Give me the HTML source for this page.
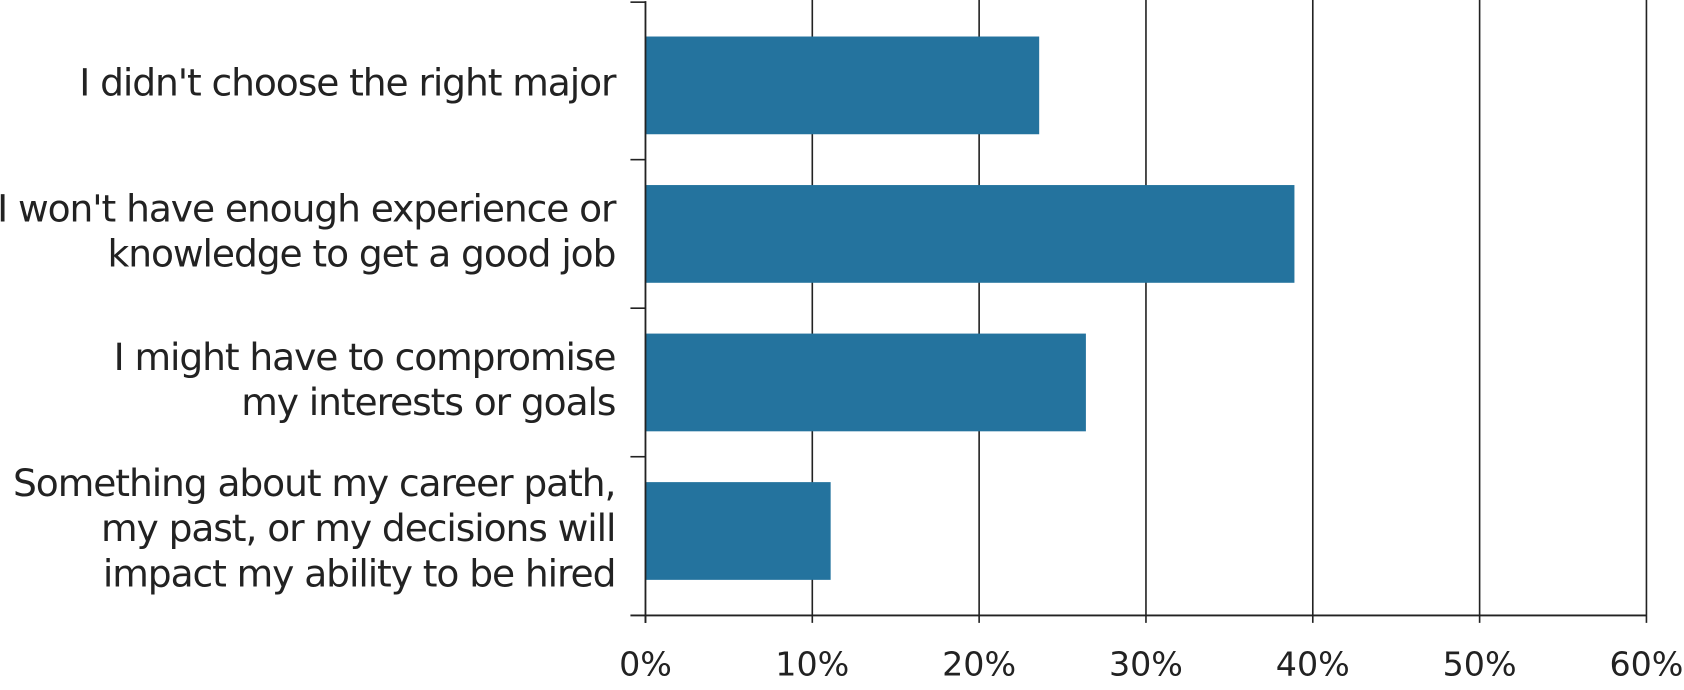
<!DOCTYPE html>
<html><head><meta charset="utf-8"><style>
html,body{margin:0;padding:0;background:#fff;width:1684px;height:690px;overflow:hidden}
svg text{font-family:"DejaVu Sans",sans-serif;fill:#222}
</style></head><body>
<svg width="1684" height="690" xmlns="http://www.w3.org/2000/svg"><g id="chart" transform="scale(1.074)"></g></svg>
<script>
const categories = [
  ["I didn't choose the right major"],
  ["I won't have enough experience or","knowledge to get a good job"],
  ["I might have to compromise","my interests or goals"],
  ["Something about my career path,","my past, or my decisions will","impact my ability to be hired"]
];
const values = [23.6, 38.9, 26.4, 11.1];
const tickValues = [0,10,20,30,40,50,60];
const tickLabels = ["0%","10%","20%","30%","40%","50%","60%"];

const NS="http://www.w3.org/2000/svg";
const svg=document.getElementById('chart');
const x0=601, x1=1533, xMax=60, yBottom=573;
const xs=v=>x0+(v/xMax)*(x1-x0);
const band=138.3, firstCenter=79.5, barH=91;
const yc=i=>firstCenter+i*band;
function mk(tag,attrs){const e=document.createElementNS(NS,tag);for(const k in attrs)e.setAttribute(k,attrs[k]);svg.appendChild(e);return e;}

tickValues.forEach((v,i)=>{
  if(v>0){const g=mk('line',{x1:xs(v),x2:xs(v),y1:0,y2:580,stroke:'#222','stroke-width':1.5});
  
  }
  else{const t=mk('line',{x1:xs(v),x2:xs(v),y1:573,y2:580,stroke:'#222','stroke-width':1.5});
  
  }
  const t=mk('text',{x:xs(v),y:629,'text-anchor':'middle','font-size':31});
  t.textContent=tickLabels[i];
  
  
});
values.forEach((v,i)=>{
  const r=mk('rect',{x:x0,y:yc(i)-barH/2,width:xs(v)-x0,height:barH,fill:'#24739e'});
  
  
  const lines=categories[i], lh=42;
  lines.forEach((s,j)=>{
    const t=mk('text',{x:573,y:yc(i)+(j-(lines.length-1)/2)*lh+9.5,'text-anchor':'end','font-size':35,'letter-spacing':-1});
    t.textContent=s;
    
    
  });
});
const tys=[2];
for(let i=1;i<values.length;i++)tys.push((yc(i-1)+yc(i))/2);
tys.forEach(y=>{
  const t=mk('line',{x1:587,x2:601,y1:y,y2:y,stroke:'#222','stroke-width':1.5});
  
  
});
const ya=mk('line',{x1:x0,x2:x0,y1:1,y2:580,stroke:'#222','stroke-width':1.7});


const xa=mk('line',{x1:587,x2:x1,y1:yBottom,y2:yBottom,stroke:'#222','stroke-width':1.7});


</script>
</body></html>
